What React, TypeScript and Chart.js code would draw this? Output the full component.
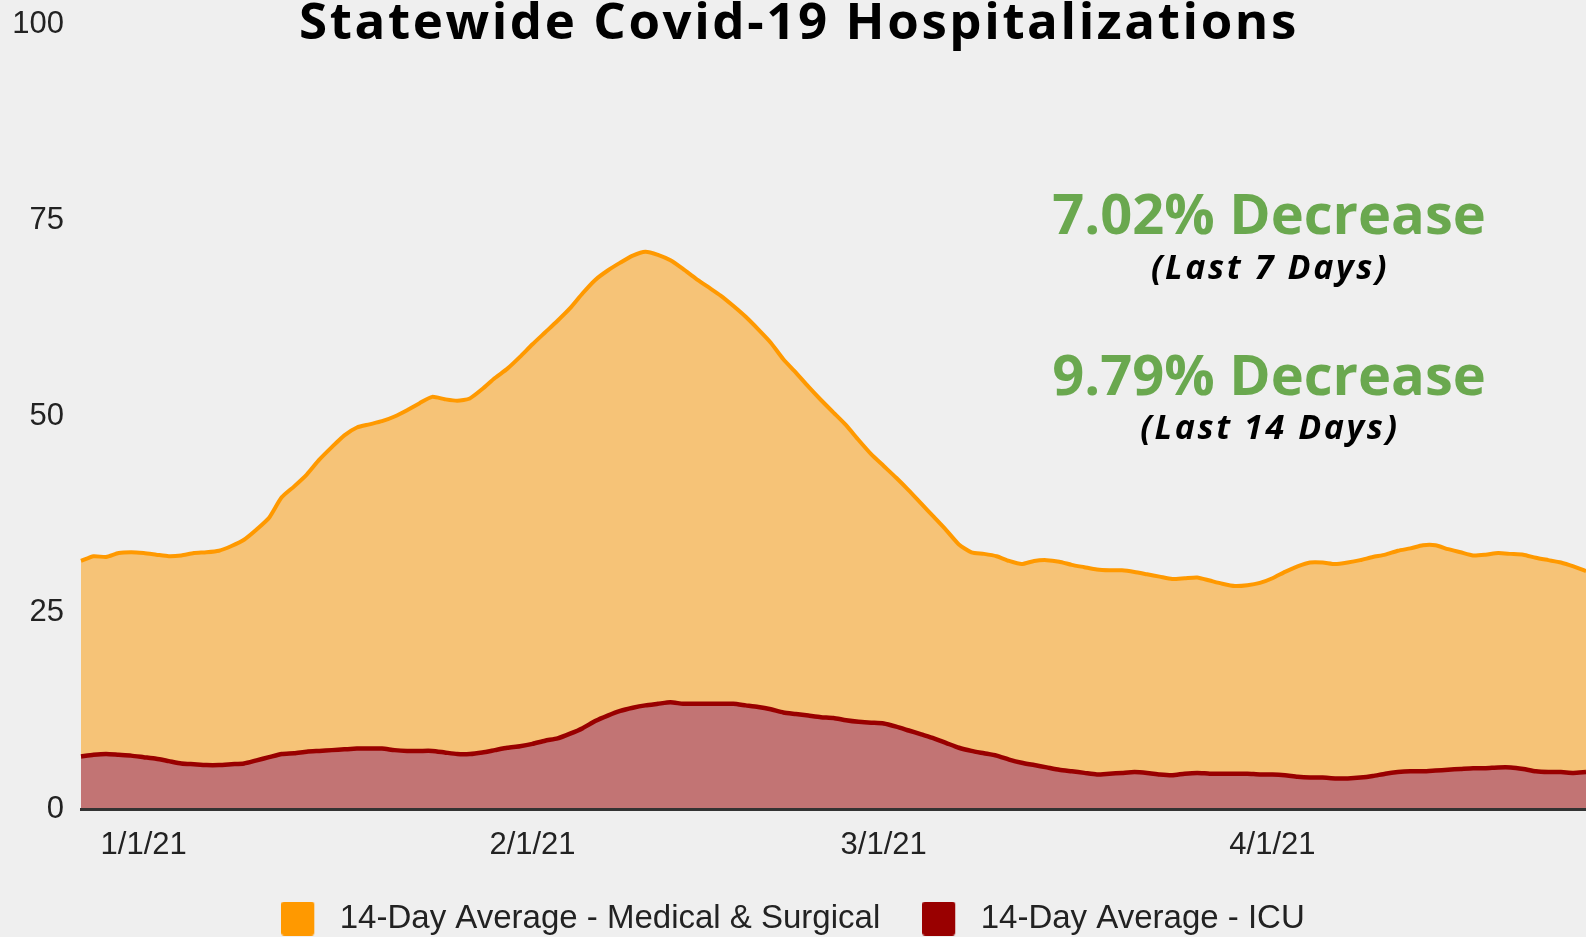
import React, { useEffect, useRef } from 'react';
import { Chart, registerables } from 'chart.js';

Chart.register(...registerables);

const TITLE = 'Statewide Covid-19 Hospitalizations';
const SERIES_NAMES = ['14-Day Average - Medical & Surgical', '14-Day Average - ICU'];
const TICK_LABELS = ['1/1/21', '2/1/21', '3/1/21', '4/1/21'];
const Y_TICKS = [0, 25, 50, 75, 100];
const NOTES_BIG = ['7.02% Decrease', '9.79% Decrease'];
const NOTES_SMALL = ['(Last 7 Days)', '(Last 14 Days)'];

// daily values, 12/27/20 .. 4/26/21
const MED_SURG = [
  31.6, 32.2, 32.1, 32.6, 32.7, 32.6, 32.4, 32.2, 32.3, 32.6,
  32.7, 32.9, 33.5, 34.3, 35.6, 37.1, 39.7, 41.1, 42.6, 44.5,
  46.1, 47.6, 48.6, 49.0, 49.4, 50.0, 50.8, 51.7, 52.5, 52.2,
  52.0, 52.3, 53.5, 54.9, 56.1, 57.6, 59.2, 60.7, 62.2, 63.8,
  65.7, 67.4, 68.6, 69.6, 70.5, 71.0, 70.6, 69.9, 68.8, 67.6,
  66.5, 65.4, 64.1, 62.7, 61.1, 59.4, 57.3, 55.6, 53.8, 52.1,
  50.5, 48.9, 47.0, 45.2, 43.7, 42.2, 40.6, 38.9, 37.2, 35.5,
  33.7, 32.7, 32.5, 32.2, 31.6, 31.2, 31.6, 31.7, 31.5, 31.1,
  30.8, 30.5, 30.4, 30.4, 30.2, 29.9, 29.6, 29.3, 29.4, 29.5,
  29.1, 28.7, 28.4, 28.5, 28.8, 29.4, 30.2, 30.9, 31.4, 31.4,
  31.2, 31.4, 31.7, 32.1, 32.4, 32.9, 33.2, 33.6, 33.6, 33.1,
  32.7, 32.3, 32.4, 32.6, 32.5, 32.4, 32.0, 31.7, 31.4, 30.9, 30.3,
];

const ICU = [
  6.7, 6.9, 7.0, 6.9, 6.8, 6.6, 6.4, 6.1, 5.8, 5.7,
  5.6, 5.6, 5.7, 5.8, 6.2, 6.6, 7.0, 7.1, 7.3, 7.4,
  7.5, 7.6, 7.7, 7.7, 7.7, 7.5, 7.4, 7.4, 7.4, 7.2,
  7.0, 7.0, 7.2, 7.5, 7.8, 8.0, 8.3, 8.7, 9.0, 9.6,
  10.3, 11.2, 11.9, 12.5, 12.9, 13.2, 13.4, 13.6, 13.4, 13.4,
  13.4, 13.4, 13.4, 13.2, 13.0, 12.7, 12.3, 12.1, 11.9, 11.7,
  11.6, 11.3, 11.1, 11.0, 10.9, 10.5, 10.0, 9.5, 9.0, 8.4,
  7.8, 7.4, 7.1, 6.8, 6.3, 5.9, 5.6, 5.3, 5.0, 4.8,
  4.6, 4.4, 4.5, 4.6, 4.7, 4.6, 4.4, 4.3, 4.5, 4.6,
  4.5, 4.5, 4.5, 4.5, 4.4, 4.4, 4.3, 4.1, 4.0, 4.0,
  3.9, 3.9, 4.0, 4.2, 4.5, 4.7, 4.8, 4.8, 4.9, 5.0,
  5.1, 5.2, 5.2, 5.3, 5.3, 5.1, 4.8, 4.7, 4.7, 4.6, 4.7,
];

// category labels: one per day starting 12/27/2020
const DATES = MED_SURG.map((_, i) => {
  const d = new Date(2020, 11, 27 + i);
  return `${d.getMonth() + 1}/${d.getDate()}/${String(d.getFullYear()).slice(2)}`;
});

const BG = '#efefef';
const SANS = '"Liberation Sans", Arial, sans-serif';
const TICK_FONT = { family: SANS, size: 31 };
const LEGEND_FONT = { family: SANS, size: 33 };

// legend swatch: rounded square on the left of a wider transparent area
function makeSwatch(color: string): HTMLCanvasElement {
  const c = document.createElement('canvas');
  c.width = 42;
  c.height = 34;
  const g = c.getContext('2d');
  if (g) {
    g.fillStyle = color;
    g.beginPath();
    if ((g as any).roundRect) (g as any).roundRect(0, 0, 33, 34, 3);
    else g.rect(0, 0, 33, 34);
    g.fill();
  }
  return c;
}

export default function App() {
  const ref = useRef<HTMLCanvasElement | null>(null);

  useEffect(() => {
    document.body.style.margin = '0';
    document.body.style.background = BG;
    const canvas = ref.current;
    if (!canvas) return;
    const chart = new Chart(canvas, {
      type: 'line',
      data: {
        labels: DATES,
        datasets: [
          {
            label: SERIES_NAMES[0],
            data: MED_SURG,
            borderColor: '#ff9900',
            backgroundColor: '#f6c377',
            borderWidth: 4,
            fill: 'origin',
            pointRadius: 0,
            tension: 0.2,
            order: 1,
          },
          {
            label: SERIES_NAMES[1],
            data: ICU,
            borderColor: '#990000',
            backgroundColor: '#c27474',
            borderWidth: 4.5,
            fill: 'origin',
            pointRadius: 0,
            tension: 0.2,
            order: 0,
          },
        ],
      },
      options: {
        animation: false,
        responsive: true,
        maintainAspectRatio: false,
        layout: { padding: { top: 24, left: 0, right: 0, bottom: -8 } },
        plugins: {
          title: { display: false },
          tooltip: { enabled: false },
          legend: {
            position: 'bottom',
            labels: {
              font: LEGEND_FONT,
              color: '#222',
              usePointStyle: true,
              pointStyleWidth: 42,
              boxHeight: 33,
              padding: 42,
              sort: (a: any, b: any) => a.datasetIndex - b.datasetIndex,
              generateLabels: (c: any) => {
                const items = Chart.defaults.plugins.legend.labels.generateLabels(c);
                items.forEach((it: any) => {
                  const ds: any = c.data.datasets[it.datasetIndex];
                  it.pointStyle = makeSwatch(ds.borderColor);
                  it.fillStyle = ds.borderColor;
                  it.strokeStyle = ds.borderColor;
                  it.lineWidth = 0;
                });
                return items;
              },
            },
          },
        },
        scales: {
          x: {
            type: 'category',
            grid: { display: false, drawTicks: false },
            border: { display: true, color: '#333', width: 3, z: 1 },
            ticks: {
              autoSkip: false,
              maxRotation: 0,
              minRotation: 0,
              padding: 18,
              font: TICK_FONT,
              color: '#222',
              callback: function (this: any, value: any) {
                const lbl = this.getLabelForValue(value);
                return TICK_LABELS.includes(lbl) ? lbl : null;
              },
            },
            afterFit: (scale: any) => {
              scale.height = 51;
            },
          },
          y: {
            min: 0,
            max: 100,
            grid: { display: false, drawTicks: false },
            border: { display: false },
            afterBuildTicks: (scale: any) => {
              scale.ticks = Y_TICKS.map((v) => ({ value: v }));
            },
            ticks: {
              padding: 17,
              font: TICK_FONT,
              color: '#222',
            },
            afterFit: (scale: any) => {
              scale.width = 81;
              scale.paddingTop = 0;
              scale.paddingBottom = 0;
            },
          },
        },
      },
    });
    return () => chart.destroy();
  }, []);

  const headFont = '"Open Sans", "DejaVu Sans", sans-serif';

  return (
    <div style={{ position: 'fixed', left: 0, top: 0, width: 1586, height: 937, background: BG, overflow: 'hidden' }}>
      <canvas ref={ref} style={{ position: 'absolute', left: 0, top: 0 }} />
      <div
        style={{
          position: 'absolute',
          left: 799,
          top: 19,
          transform: 'translate(-50%, -50%)',
          fontFamily: headFont,
          fontWeight: 700,
          fontSize: 51,
          letterSpacing: '2.6px',
          lineHeight: 1,
          color: '#000',
          whiteSpace: 'nowrap',
        }}
      >
        {TITLE}
      </div>
      {NOTES_BIG.map((t, i) => (
        <React.Fragment key={t}>
          <div
            style={{
              position: 'absolute',
              left: 1269,
              top: i === 0 ? 212 : 373,
              transform: 'translate(-50%, -50%)',
              fontFamily: headFont,
              fontWeight: 700,
              fontSize: 56,
              lineHeight: 1,
              color: '#6aa84f',
              whiteSpace: 'nowrap',
            }}
          >
            {t}
          </div>
          <div
            style={{
              position: 'absolute',
              left: 1270,
              top: i === 0 ? 266 : 426,
              transform: 'translate(-50%, -50%)',
              fontFamily: headFont,
              fontWeight: 700,
              fontStyle: 'italic',
              fontSize: 34,
              letterSpacing: '2.6px',
              lineHeight: 1,
              color: '#000',
              whiteSpace: 'nowrap',
            }}
          >
            {NOTES_SMALL[i]}
          </div>
        </React.Fragment>
      ))}
    </div>
  );
}
